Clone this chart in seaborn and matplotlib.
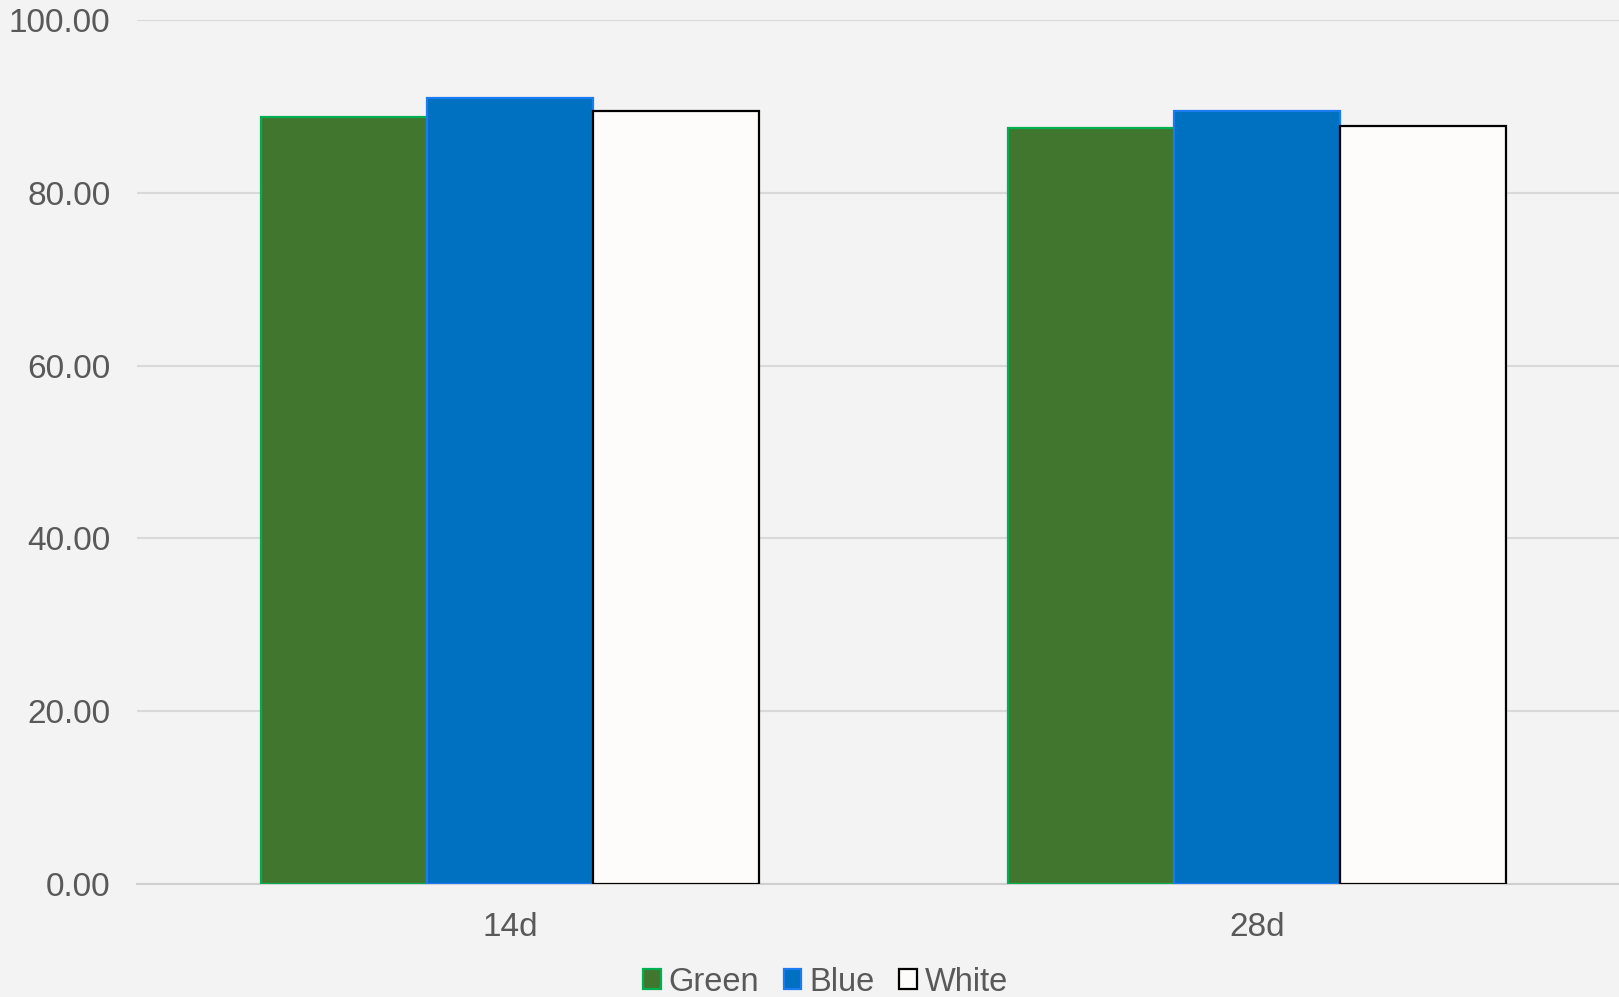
import matplotlib
matplotlib.use("Agg")
import matplotlib.pyplot as plt
from matplotlib.patches import Patch
import numpy as np
import pandas as pd
import seaborn as sns

# Measured values per period and light colour
periods = ["14d", "28d"]
series = ["Green", "Blue", "White"]
green_vals = [88.74, 87.50]
blue_vals = [90.98, 89.50]
white_vals = [89.44, 87.74]
y_ticks = [0, 20, 40, 60, 80, 100]

fill_colors = {"Green": "#41762f", "Blue": "#0070c0", "White": "#fdfcfa"}
edge_colors = {"Green": "#00b050", "Blue": "#1a7cf0", "White": "#000000"}

df = pd.DataFrame({
    "period": periods * 3,
    "series": [s for s in series for _ in periods],
    "value": green_vals + blue_vals + white_vals,
})

sns.set_theme(style="white")
plt.rcParams["font.family"] = ["Liberation Sans", "DejaVu Sans"]

bg = "#f3f3f3"
fig = plt.figure(figsize=(16.19, 9.97), dpi=100, facecolor=bg)
# plot area runs slightly past the right edge of the canvas
ax = fig.add_axes([137 / 1619, 1 - 884 / 997, 1493 / 1619, (884 - 20) / 997])
ax.set_facecolor(bg)

sns.barplot(data=df, x="period", y="value", hue="series", order=periods,
            hue_order=series, palette=fill_colors, width=0.667,
            saturation=1, legend=False, ax=ax, zorder=3)

for name, cont in zip(series, ax.containers):
    for bar in cont:
        bar.set_edgecolor(edge_colors[name])
        bar.set_linewidth(1.6)

ax.set_xlim(-0.5, 1.5)
ax.set_ylim(0, 100)
ax.set_yticks(y_ticks)
ax.set_yticklabels([f"{v:.2f}" for v in y_ticks])
ax.yaxis.grid(True, color="#d9d9d9", linewidth=1.5, zorder=0)
ax.set_axisbelow(True)
for side in ["left", "right", "top"]:
    ax.spines[side].set_visible(False)
ax.spines["bottom"].set_color("#d0d0d0")
ax.spines["bottom"].set_linewidth(1.5)
ax.tick_params(axis="both", length=0, labelsize=24, labelcolor="#595959")
ax.tick_params(axis="y", pad=19)
ax.tick_params(axis="x", pad=20)
ax.set_xlabel("")
ax.set_ylabel("")

handles = [Patch(facecolor=fill_colors[s], edgecolor=edge_colors[s], linewidth=1.6, label=s)
           for s in series]
leg = fig.legend(handles=handles, loc="center", ncol=3, frameon=False,
                 bbox_to_anchor=(0.51, 0.015), fontsize=23.5, handlelength=0.54,
                 handleheight=0.6, handletextpad=0.25, columnspacing=0.75,
                 borderpad=0)
for t in leg.get_texts():
    t.set_color("#595959")

fig.savefig("out.png", dpi=100, facecolor=bg)
